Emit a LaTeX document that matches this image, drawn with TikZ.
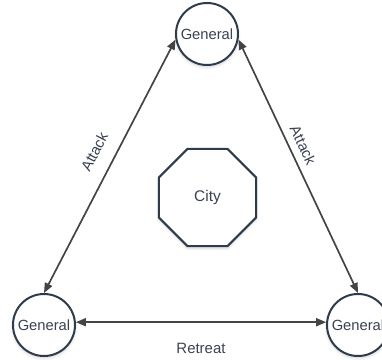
\documentclass[tikz,border=0pt]{standalone}
\usepackage{fontspec}
\setmainfont{Liberation Sans}
\usetikzlibrary{shapes.geometric,arrows.meta,shadows.blur}

\definecolor{shapeline}{HTML}{2E3B4A}
\definecolor{linkline}{HTML}{444444}
\definecolor{labeltext}{HTML}{3A4150}

\tikzset{
  softshadow/.style={blur shadow={shadow blur steps=6, shadow xshift=0bp, shadow yshift=-2bp, shadow blur radius=3bp, shadow opacity=18}},
  general/.style={circle, draw=shapeline, line width=2bp, fill=white, minimum size=62bp, inner sep=0pt,
    text=labeltext, font=\fontsize{14.8}{16}\selectfont, softshadow},
  citybox/.style={regular polygon, regular polygon sides=8, draw=shapeline, line width=2bp, fill=white,
    minimum size=105bp, inner sep=0pt, text=labeltext, font=\fontsize{15.5}{17}\selectfont, softshadow},
  link/.style={{Triangle[length=10bp,width=8bp]}-{Triangle[length=10bp,width=8bp]}, draw=linkline, line width=1.7bp},
  linklabel/.style={text=labeltext, font=\fontsize{15}{17}\selectfont, inner sep=0pt}
}

\begin{document}
\begin{tikzpicture}[x=1bp,y=1bp]
  \useasboundingbox (0,0) rectangle (382,360);

  % the three generals and the besieged city
  \node[general] (top) at (207,326) {General};
  \node[general] (left) at (44,35) {General};
  \node[general] (right) at (358,35) {General};
  \node[citybox] (city) at (207.5,162.5) {City};

  % messages between the generals
  \draw[link] (left.north) -- node[linklabel, sloped, pos=0.52, above=14bp] (attackleft) {Attack} (top.190);
  \draw[link] (top.-10) -- node[linklabel, sloped, pos=0.44, above=7bp] (attackright) {Attack} (right.north);
  \draw[link] (left.5) -- node[linklabel, yshift=-26bp] (retreat) {Retreat} (right.175);
\end{tikzpicture}
\end{document}
